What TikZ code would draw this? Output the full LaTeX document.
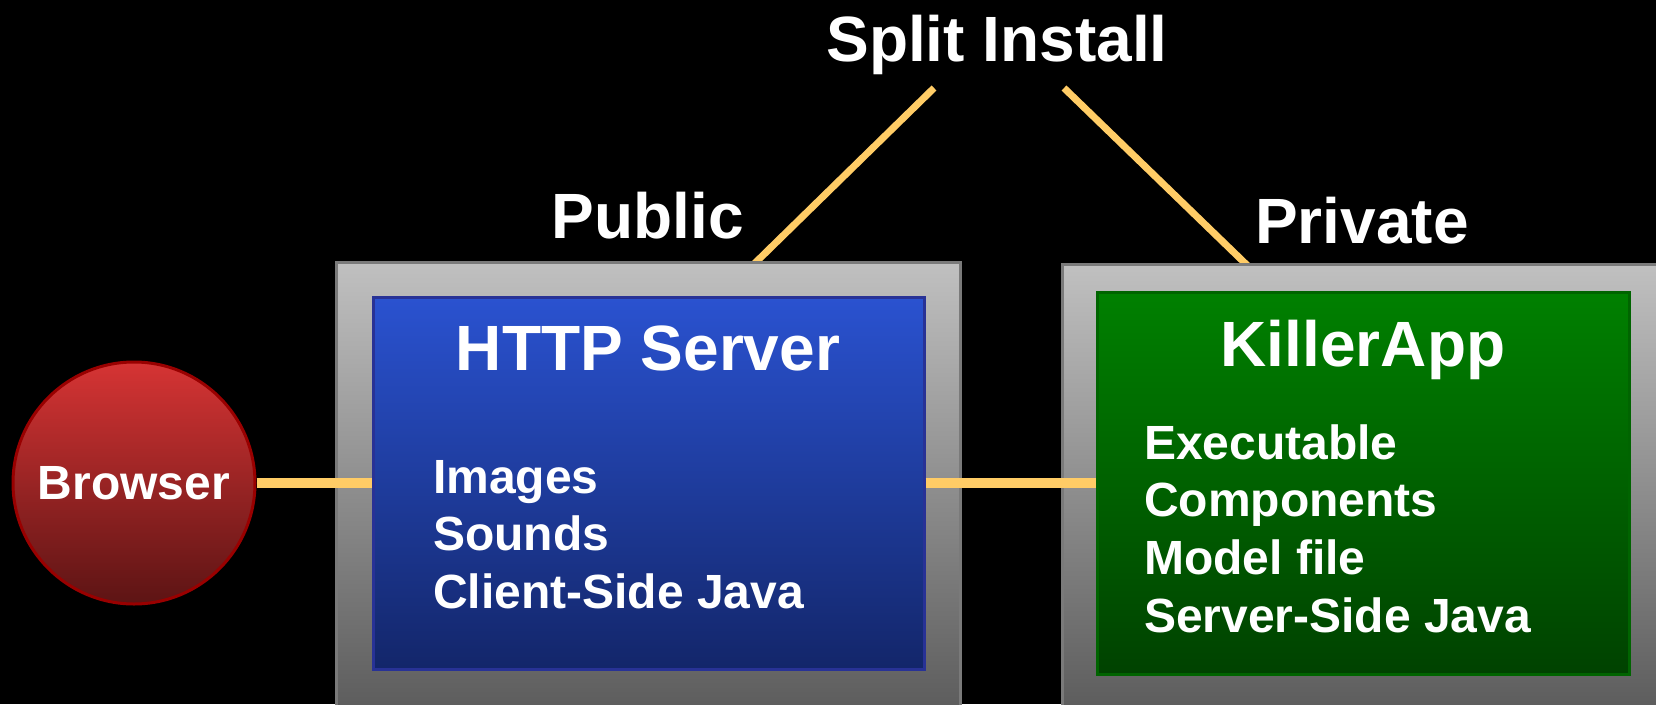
\documentclass[tikz,border=0pt]{standalone}
\usepackage{fontspec}
\setmainfont{Liberation Sans}
\usepackage{tikz}
\usetikzlibrary{shapes,positioning}

\definecolor{LinkOrange}{RGB}{255,204,102}
\definecolor{TierEdge}{RGB}{122,122,122}
\definecolor{BlueEdge}{RGB}{40,50,150}
\definecolor{GreenEdge}{RGB}{0,100,0}
\definecolor{RedEdge}{RGB}{153,0,0}

\begin{document}
\begin{tikzpicture}[x=1pt,y=-1pt]
			\tikzstyle{Tier}	= [rectangle, draw=TierEdge, line width=3pt, inner sep=0pt,
						   top color={rgb,255:red,192;green,192;blue,192},
						   middle color={rgb,255:red,160;green,160;blue,160},
						   bottom color={rgb,255:red,92;green,92;blue,92}]
			\tikzstyle{Server}	= [rectangle, draw=BlueEdge, line width=3pt, inner sep=0pt,
						   top color={rgb,255:red,42;green,82;blue,208},
						   bottom color={rgb,255:red,19;green,38;blue,106}]
			\tikzstyle{App}		= [rectangle, draw=GreenEdge, line width=3pt, inner sep=0pt,
						   top color={rgb,255:red,0;green,128;blue,0},
						   bottom color={rgb,255:red,0;green,66;blue,0}]
			\tikzstyle{Client}	= [circle, draw=RedEdge, line width=3pt, inner sep=0pt, minimum size=242pt,
						   top color={rgb,255:red,214;green,52;blue,52},
						   bottom color={rgb,255:red,92;green,20;blue,20},
						   text=white, font=\fontsize{48}{48}\selectfont\bfseries]
			\tikzstyle{Title}	= [text=white, inner sep=0pt, anchor=base, font=\fontsize{64}{64}\selectfont\bfseries]
			\tikzstyle{Item}	= [text=white, inner sep=0pt, anchor=base west, font=\fontsize{48}{48}\selectfont\bfseries]
			\tikzstyle{Link}	= [line width=10pt, LinkOrange]
			\tikzstyle{Split}	= [line width=7pt, LinkOrange]

			\path [use as bounding box, fill=black] (0,0) rectangle (1656,704);

			\node (split) at (997,61) [Title] {Split Install};
			\coordinate (si-a) at (934,88);
			\coordinate (si-b) at (1064,88);
			\coordinate (pub-top) at (752,266);
			\coordinate (priv-top) at (1251,269);
			\draw [-] (si-a) to (pub-top) [Split];
			\draw [-] (si-b) to (priv-top) [Split];

			\node (public) at (648,238) [Title] {Public};
			\node (private) at (1362,243) [Title] {Private};

			\node (pub) at (648,487) [Tier, minimum width=624pt, minimum height=450pt] {};
			\node (priv) at (1381,488) [Tier, minimum width=637pt, minimum height=447pt] {};
			\node (http) at (648.5,483) [Server, minimum width=551pt, minimum height=372pt] {};
			\node (killer) at (1363,483) [App, minimum width=532pt, minimum height=382pt] {};
			\node (browser) at (134,483) [Client] {Browser};

			\draw [-] (browser.east) to (http.west) [Link];
			\draw [-] (http.east) to (killer.west) [Link];

			\node (http-title) at (648,370) [Title] {HTTP Server};
			\node (img) at (433,493) [Item] {Images};
			\node (snd) at (433,550) [Item] {Sounds};
			\node (csj) at (433,608) [Item] {Client-Side Java};

			\node (killer-title) at (1363,366) [Title] {KillerApp};
			\node (exe) at (1144,459) [Item] {Executable};
			\node (comp) at (1144,516) [Item] {Components};
			\node (model) at (1144,574) [Item] {Model file};
			\node (ssj) at (1144,632) [Item] {Server-Side Java};
\end{tikzpicture}
\end{document}
